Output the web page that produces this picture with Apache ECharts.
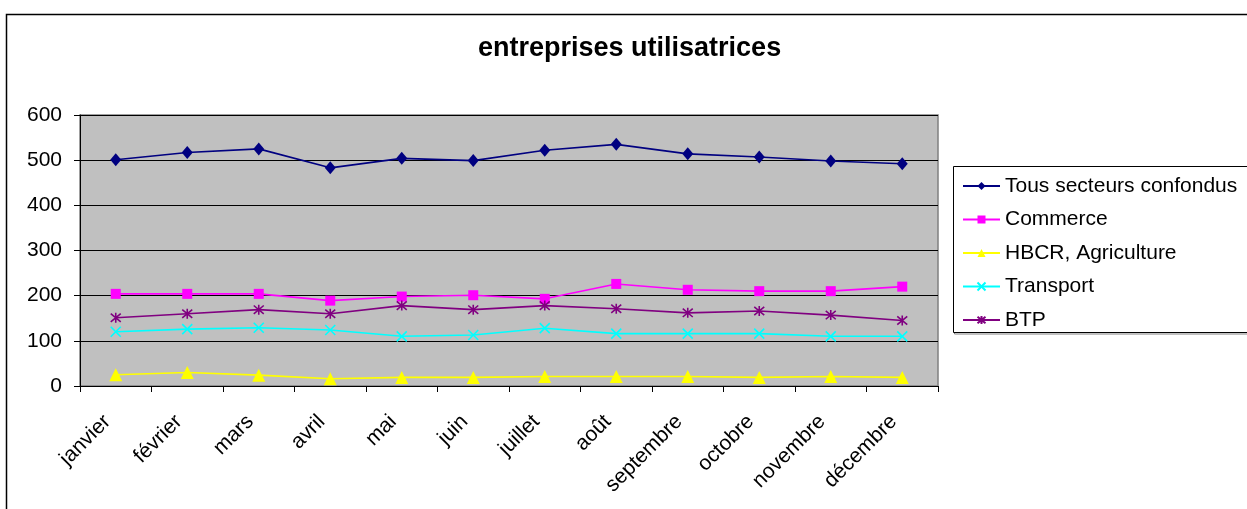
<!DOCTYPE html>
<html>
<head>
<meta charset="utf-8">
<title>entreprises utilisatrices</title>
<script src="https://cdn.jsdelivr.net/npm/echarts@6/dist/echarts.min.js"></script>
<style>
  html, body { margin: 0; padding: 0; background: #fff; }
  #chart { width: 1247px; height: 509px; }
</style>
</head>
<body>
<div id="chart"></div>
<script>
// Monthly counts of user companies, by sector
const months = ['janvier', 'février', 'mars', 'avril', 'mai', 'juin',
  'juillet', 'août', 'septembre', 'octobre', 'novembre', 'décembre'];
const tousSecteurs = [501, 517, 525, 483, 504, 499, 522, 535, 514, 507, 498, 492];
const commerce = [204, 204, 204, 189, 198, 201, 193, 226, 213, 210, 210, 220];
const hbcrAgriculture = [25, 30, 24, 16, 19, 19, 21, 21, 21, 19, 21, 19];
const transport = [120, 126, 129, 124, 110, 113, 128, 116, 116, 116, 110, 110];
const btp = [151, 160, 169, 160, 178, 169, 178, 171, 162, 166, 157, 145];
const yTicks = [0, 100, 200, 300, 400, 500, 600];

const FONT = "'Liberation Sans', Arial, sans-serif";
const CROSS = 'path://M0,0L10,10M10,0L0,10';
const STAR = 'path://M0,0L10,10M10,0L0,10M5,-1L5,11';

function lineSeries(name, data, color, symbol, size, stroked) {
  return {
    name: name,
    type: 'line',
    data: data,
    symbol: symbol,
    symbolSize: size,
    showAllSymbol: true,
    lineStyle: { color: color, width: 1.6 },
    itemStyle: stroked
      ? { color: 'rgba(0,0,0,0)', borderColor: color, borderWidth: 1.6 }
      : { color: color, borderWidth: 0 },
    emphasis: { disabled: true },
    animation: false
  };
}

const chart = echarts.init(document.getElementById('chart'));
chart.setOption({
  backgroundColor: '#ffffff',
  animation: false,
  title: {
    text: 'entreprises utilisatrices',
    left: 478,
    top: 35,
    padding: 0,
    textStyle: { fontFamily: FONT, fontSize: 27, fontWeight: 'bold', color: '#000' }
  },
  graphic: [
    { // outer frame
      type: 'rect', silent: true, z: -10,
      shape: { x: 6.5, y: 14.5, width: 1300, height: 600 },
      style: { fill: 'none', stroke: '#000', lineWidth: 1.5 }
    },
    { // legend box shadow
      type: 'rect', silent: true, z: -9,
      shape: { x: 954.5, y: 168, width: 400, height: 166 },
      style: { fill: 'none', stroke: '#808080', lineWidth: 1 }
    },
    { // legend box
      type: 'rect', silent: true, z: -8,
      shape: { x: 953.5, y: 166.5, width: 400, height: 166 },
      style: { fill: '#fff', stroke: '#000', lineWidth: 1 }
    }
  ],
  legend: {
    orient: 'vertical',
    left: 962,
    top: 174,
    padding: 0,
    itemWidth: 37,
    itemHeight: 10,
    itemGap: 9.5,
    selectedMode: false,
    textStyle: { fontFamily: FONT, fontSize: 21, color: '#000', lineHeight: 24 },
    data: ['Tous secteurs confondus', 'Commerce', 'HBCR, Agriculture', 'Transport', 'BTP']
  },
  grid: {
    left: 80,
    right: 309,
    top: 115,
    bottom: 123,
    show: true,
    backgroundColor: '#C0C0C0',
    borderColor: '#808080',
    borderWidth: 1.5,
    containLabel: false,
    outerBoundsMode: 'none'
  },
  xAxis: {
    type: 'category',
    data: months,
    boundaryGap: true,
    axisLine: { lineStyle: { color: '#000', width: 1 } },
    axisTick: { show: true, length: 6, lineStyle: { color: '#000' } },
    axisLabel: {
      rotate: 45,
      margin: 24,
      padding: [0, 12, 0, 0],
      interval: 0,
      fontFamily: FONT,
      fontSize: 21,
      color: '#000'
    },
    splitLine: { show: false }
  },
  yAxis: {
    type: 'value',
    min: yTicks[0],
    max: yTicks[yTicks.length - 1],
    interval: yTicks[1] - yTicks[0],
    axisLine: { show: true, lineStyle: { color: '#000', width: 1 } },
    axisTick: { show: true, length: 6, lineStyle: { color: '#000' } },
    axisLabel: { margin: 18, fontFamily: FONT, fontSize: 21, color: '#000' },
    splitLine: { show: true, lineStyle: { color: '#000', width: 1 } }
  },
  series: [
    lineSeries('Tous secteurs confondus', tousSecteurs, '#000080', 'diamond', [11, 13], false),
    lineSeries('Commerce', commerce, '#FF00FF', 'rect', 10, false),
    lineSeries('HBCR, Agriculture', hbcrAgriculture, '#FFFF00', 'triangle', 13, false),
    lineSeries('Transport', transport, '#00FFFF', CROSS, 10, true),
    lineSeries('BTP', btp, '#800080', STAR, 10, true)
  ]
});
</script>
</body>
</html>
